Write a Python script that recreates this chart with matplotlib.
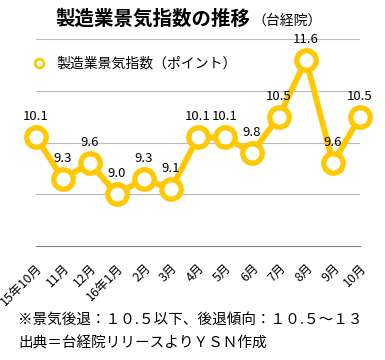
import matplotlib
matplotlib.use("Agg")
import matplotlib.pyplot as plt

plt.rcParams['font.family'] = ['Noto Sans CJK JP', 'DejaVu Sans']

months = ["15年10月", "11月", "12月", "16年1月", "2月", "3月", "4月",
          "5月", "6月", "7月", "8月", "9月", "10月"]
index_vals = [10.1, 9.3, 9.6, 9.0, 9.3, 9.1, 10.1, 10.1, 9.8, 10.5, 11.6, 9.6, 10.5]
label_txt = ["10.1", "9.3", "9.6", "9.0", "9.3", "9.1", "10.1", "10.1", "9.8",
             "10.5", "11.6", "9.6", "10.5"]

yellow = "#FFC800"

fig = plt.figure(figsize=(3.85, 3.6), dpi=100)
ax = fig.add_axes([36 / 385, 1 - 246 / 360, 324 / 385, 207 / 360])

x = list(range(len(months)))
ax.plot(x, index_vals, color=yellow, lw=4.2, marker="o", ms=14,
        mfc="white", mec=yellow, mew=3.8, zorder=3, clip_on=False,
        label="製造業景気指数（ポイント）")

for xi, v, t in zip(x, index_vals, label_txt):
    ax.annotate(t, (xi, v), xytext=(0, 10), textcoords="offset points",
                ha="center", va="bottom", fontsize=9.5, zorder=4)

ax.set_xlim(0, 12)
ax.set_ylim(8, 12)
ax.set_yticks([9, 10, 11, 12])
ax.grid(axis="y", color="#bbbbbb", lw=0.8)
ax.set_axisbelow(True)
ax.tick_params(axis="y", left=False, labelleft=False)
ax.tick_params(axis="x", length=0, pad=11)
for s in ["top", "right", "left"]:
    ax.spines[s].set_visible(False)
ax.spines["bottom"].set_color("#7a8090")
ax.spines["bottom"].set_linewidth(0.8)

ax.set_xticks(x)
ax.set_xticklabels(months, rotation=45, ha="right", rotation_mode="anchor",
                   fontsize=9)

leg = ax.legend(loc="upper left", bbox_to_anchor=(-0.045, 0.975), frameon=False,
                fontsize=10, handlelength=0.8, markerscale=0.45)
for h in leg.legend_handles:
    h.set_linestyle("none")
    h.set_markeredgewidth(2)

fig.text(0.65, 1 - 19 / 360, "製造業景気指数の推移", fontsize=14, fontweight="bold",
         ha="right", va="center")
fig.text(0.655, 1 - 21 / 360, "（台経院）", fontsize=10, ha="left", va="center")

fig.text(18 / 385, 1 - 320 / 360, "※景気後退：１０.５以下、後退傾向：１０.５～１３",
         fontsize=10.5, va="center")
fig.text(18 / 385, 1 - 343 / 360, "出典＝台経院リリースよりＹＳＮ作成",
         fontsize=10.5, va="center")

fig.savefig("out.png", dpi=100)
